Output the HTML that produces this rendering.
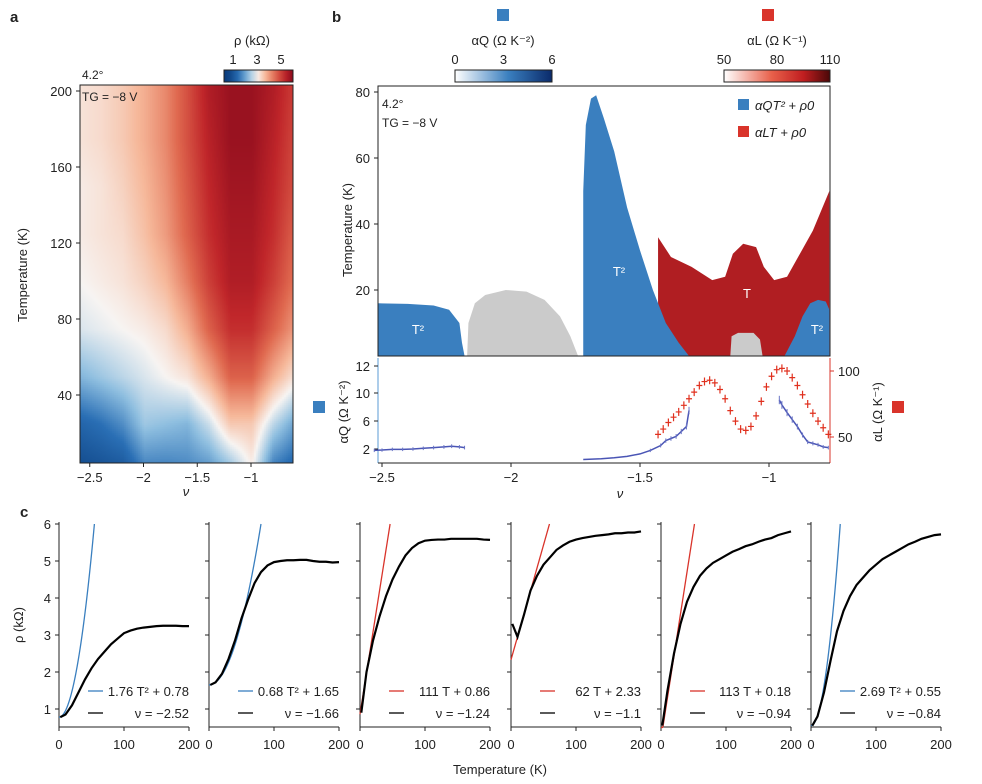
<!DOCTYPE html>
<html><head><meta charset="utf-8"><style>
body{margin:0;background:#fff;width:982px;height:784px;overflow:hidden;position:relative;font-family:"Liberation Sans",sans-serif}
#hm{position:absolute;left:80px;top:85px}
svg{position:absolute;left:0;top:0}
text{font-family:"Liberation Sans",sans-serif;font-size:13px;fill:#222}
</style></head><body>
<canvas id="hm" width="213" height="378"></canvas>
<svg id="s" width="982" height="784"></svg>
<script>
// ---- panel a data ----
const hmNu=[-2.6,-2.4,-2.2,-2.0,-1.8,-1.6,-1.4,-1.2,-1.0,-0.8,-0.6];
const hmT=[0,25,50,75,100,125,150,175,200];
const hmRho=[
[0.8,0.9,1.0,1.6,1.6,1.7,1.8,2.2,3.0,1.5,1.2],
[1.3,1.5,1.8,2.4,2.3,2.2,2.7,3.5,3.5,2.6,2.0],
[2.2,2.4,2.6,2.8,3.0,3.2,3.8,4.6,4.6,3.8,3.2],
[2.8,2.9,3.0,3.1,3.3,3.8,4.6,5.2,5.2,4.6,4.0],
[3.0,3.1,3.2,3.4,3.7,4.3,5.0,5.5,5.5,5.0,4.4],
[3.1,3.2,3.3,3.6,4.0,4.6,5.2,5.6,5.6,5.2,4.6],
[3.1,3.2,3.4,3.7,4.1,4.7,5.3,5.7,5.7,5.3,4.8],
[3.2,3.3,3.5,3.8,4.2,4.8,5.4,5.8,5.8,5.4,4.9],
[3.2,3.3,3.5,3.8,4.2,4.8,5.5,5.8,5.8,5.5,5.0]];
const aXTicks=[-2.5,-2,-1.5,-1];
const aYTicks=[40,80,120,160,200];
// ---- panel b data ----
const regBlueL=[[-2.53,0],[-2.53,16],[-2.4,15.8],[-2.3,15.3],[-2.24,14],[-2.2,10],[-2.19,4],[-2.18,0]];
const regGray=[[-2.17,0],[-2.165,10],[-2.14,16],[-2.1,18.5],[-2.02,20],[-1.94,19.5],[-1.87,17],[-1.81,12],[-1.77,6],[-1.74,0]];
const regRed=[[-1.43,0],[-1.43,36],[-1.38,30],[-1.3,27],[-1.22,23],[-1.17,24],[-1.14,31],[-1.1,34],[-1.05,33],[-1.02,27],[-0.98,23],[-0.93,24],[-0.88,31],[-0.83,38],[-0.766,50],[-0.766,0]];
const regBlueM=[[-1.72,0],[-1.72,50],[-1.71,70],[-1.69,78],[-1.67,79],[-1.64,72],[-1.6,62],[-1.55,45],[-1.5,32],[-1.45,20],[-1.4,10],[-1.35,4],[-1.31,0]];
const regGrayS=[[-1.15,0],[-1.145,6],[-1.12,7],[-1.06,7],[-1.035,5],[-1.025,0]];
const regBlueR=[[-0.94,0],[-0.9,6],[-0.87,12],[-0.84,16],[-0.81,17],[-0.78,16.5],[-0.766,14],[-0.766,0]];
const bTTicks=[20,40,60,80];
const bNuTicks=[-2.5,-2,-1.5,-1];
const aqTicks=[2,6,10,12];
const alTicks=[50,100];
const aqSeg1=[[-2.53,1.8],[-2.5,1.85],[-2.46,1.95],[-2.42,1.95],[-2.38,2.0],[-2.34,2.1],[-2.3,2.2],[-2.26,2.3],[-2.23,2.4],[-2.2,2.3],[-2.18,2.2]];
const aqSeg2=[[-1.72,0.5],[-1.65,0.6],[-1.6,0.75],[-1.55,0.95],[-1.5,1.3],[-1.46,1.8],[-1.42,2.5],[-1.4,3.2],[-1.38,3.5],[-1.36,3.8],[-1.34,4.5],[-1.32,5.2],[-1.31,7.5]];
const aqSeg3=[[-0.96,9.0],[-0.95,8.3],[-0.93,7.2],[-0.91,6.2],[-0.89,5.2],[-0.87,4.0],[-0.85,3.0],[-0.83,2.8],[-0.81,2.6],[-0.79,2.3],[-0.77,2.2]];
const alNu=[-1.43,-1.41,-1.39,-1.37,-1.35,-1.33,-1.31,-1.29,-1.27,-1.25,-1.23,-1.21,-1.19,-1.17,-1.15,-1.13,-1.11,-1.09,-1.07,-1.05,-1.03,-1.01,-0.99,-0.97,-0.95,-0.93,-0.91,-0.89,-0.87,-0.85,-0.83,-0.81,-0.79,-0.77];
const alVal=[52,56,61,65,69,74,79,84,89,92,93,91,86,79,70,62,56,55,58,66,77,88,96,101,102,100,95,89,82,75,68,62,57,52];
// ---- panel c data ----
const cT=[0,10,20,30,40,50,60,70,80,90,100,110,120,130,140,150,160,170,180,190,200];
const cRho=[
[0.78,0.85,1.1,1.45,1.8,2.1,2.35,2.55,2.75,2.9,3.05,3.12,3.17,3.2,3.22,3.24,3.25,3.25,3.25,3.24,3.24],
[1.65,1.72,1.95,2.35,2.85,3.45,3.95,4.4,4.7,4.88,4.97,5.0,5.02,5.02,5.03,5.03,5.0,4.98,4.98,4.96,4.97],
[0.9,2.0,2.85,3.5,4.05,4.5,4.85,5.15,5.35,5.48,5.55,5.57,5.58,5.58,5.6,5.6,5.6,5.6,5.6,5.58,5.57],
[3.3,2.95,3.55,4.2,4.6,4.9,5.1,5.3,5.42,5.52,5.58,5.62,5.65,5.68,5.7,5.72,5.75,5.75,5.77,5.77,5.8],
[0.55,1.5,2.5,3.3,3.9,4.3,4.6,4.8,4.95,5.05,5.15,5.25,5.32,5.4,5.45,5.52,5.58,5.62,5.7,5.75,5.8],
[0.55,0.8,1.45,2.3,3.1,3.65,4.05,4.35,4.55,4.75,4.9,5.05,5.15,5.25,5.35,5.45,5.52,5.6,5.65,5.7,5.72]];
const fitType=['q','q','l','l','l','q'];
const fitA=[1.76,0.68,111,62,113,2.69];
const fitB=[0.78,1.65,0.86,2.33,0.18,0.55];
const fitLbl=['1.76 T\u00b2 + 0.78','0.68 T\u00b2 + 1.65','111 T + 0.86','62 T + 2.33','113 T + 0.18','2.69 T\u00b2 + 0.55'];
const nuLbl=['\u22122.52','\u22121.66','\u22121.24','\u22121.1','\u22120.94','\u22120.84'];
const cYTicks=[1,2,3,4,5,6];
const cXTicks=[0,100,200];

const NS='http://www.w3.org/2000/svg';
const S=document.getElementById('s');
function el(tag,attrs,parent,txt){const e=document.createElementNS(NS,tag);for(const k in attrs)e.setAttribute(k,attrs[k]);if(txt!==undefined)e.textContent=txt;(parent||S).appendChild(e);return e;}
function T(x,y,s,o){o=o||{};const e=el('text',Object.assign({x:x,y:y,'text-anchor':o.a||'middle'},o.attr||{}),o.p,s);if(o.size)e.style.fontSize=o.size+'px';if(o.fill)e.style.fill=o.fill;if(o.w)e.style.fontWeight=o.w;if(o.it)e.style.fontStyle='italic';return e;}

// colormap
const cmV=[0.5,1.5,2.3,3,3.7,4.5,5.3,6];
const cmC=[[8,58,122],[42,111,181],[143,191,224],[247,244,242],[246,184,154],[224,106,80],[192,38,42],[138,10,28]];
function cmap(v){if(v<=cmV[0])return cmC[0];for(let i=1;i<cmV.length;i++){if(v<=cmV[i]){const t=(v-cmV[i-1])/(cmV[i]-cmV[i-1]);return cmC[i-1].map((c,j)=>Math.round(c+(cmC[i][j]-c)*t));}}return cmC[cmC.length-1];}

// ---- panel a ----
const ax=n=>251+(n+1)*107.5, ay=t=>91+(200-t)*1.9;
(function(){const c=document.getElementById('hm').getContext('2d');
function interp(nu,t){let i=0;while(i<hmNu.length-2&&nu>hmNu[i+1])i++;let j=0;while(j<hmT.length-2&&t>hmT[j+1])j++;
const u=Math.min(1,Math.max(0,(nu-hmNu[i])/(hmNu[i+1]-hmNu[i]))),v=Math.min(1,Math.max(0,(t-hmT[j])/(hmT[j+1]-hmT[j])));
return hmRho[j][i]*(1-u)*(1-v)+hmRho[j][i+1]*u*(1-v)+hmRho[j+1][i]*(1-u)*v+hmRho[j+1][i+1]*u*v;}
for(let px=0;px<213;px+=2)for(let py=0;py<378;py+=2){const nu=(80+px-251)/107.5-1,t=200-(85+py-91)/1.9;const col=cmap(interp(nu,t));c.fillStyle=`rgb(${col})`;c.fillRect(px,py,2,2);}})();
el('rect',{x:80,y:85,width:213,height:378,fill:'none',stroke:'#222','stroke-width':1,});
T(10,22,'a',{a:'start',w:'bold',size:15});
aXTicks.forEach(v=>{el('line',{x1:ax(v),x2:ax(v),y1:463,y2:467,stroke:'#222'});T(ax(v),482,String(v).replace('-','\u2212'));});
aYTicks.forEach(v=>{el('line',{x1:76,x2:80,y1:ay(v),y2:ay(v),stroke:'#222'});T(72,ay(v)+5,String(v),{a:'end'});});
T(186,496,'\u03bd',{it:1,attr:{}});
T(27,275,'Temperature (K)',{attr:{transform:'rotate(-90 27 275)',}});
T(82,79,'4.2\u00b0',{a:'start',size:12});T(82,101,'TG = \u22128 V',{a:'start',size:12});
// colorbar a
const dA=el('defs',{});const gA=el('linearGradient',{id:'gA'},dA);
for(let k=0;k<=10;k++){const v=0.25+k*0.575;el('stop',{offset:k*10+'%','stop-color':`rgb(${cmap(v)})`},gA);}
el('rect',{x:224,y:70,width:69,height:12,fill:'url(#gA)',stroke:'#222',});
[1,3,5].forEach(v=>T(224+(v-0.25)*12,64,String(v)));
T(252,45,'\u03c1 (k\u03a9)',{});

// ---- panel b ----
const bx=n=>769+(n+1)*258, by=t=>356-t*3.3;
T(332,22,'b',{a:'start',w:'bold',size:15});
el('clipPath',{id:'cb'},dA);el('rect',{x:378,y:86,width:452,height:270},dA.lastChild);
const gB=el('g',{'clip-path':'url(#cb)'});
function poly(pts,fill,name){const e=el('polygon',{points:pts.map(p=>bx(p[0])+','+by(p[1])).join(' '),fill:fill,},gB);}
poly(regRed,'#b01e22','region-linear-T');
poly(regBlueL,'#3a7fbf','region-T2-left');
poly(regGray,'#cbcbcb','region-gray-dome');
poly(regBlueM,'#3a7fbf','region-T2-middle');
poly(regGrayS,'#cbcbcb','region-gray-small');
poly(regBlueR,'#3a7fbf','region-T2-right');
el('rect',{x:378,y:86,width:452,height:270,fill:'none',stroke:'#222'});
T(418,334,'T\u00b2',{fill:'#fff'});T(619,276,'T\u00b2',{fill:'#fff'});T(817,334,'T\u00b2',{fill:'#fff'});T(747,298,'T',{fill:'#fff'});
bTTicks.forEach(v=>{el('line',{x1:374,x2:378,y1:by(v),y2:by(v),stroke:'#222'});T(370,by(v)+5,String(v),{a:'end'});});
T(352,230,'Temperature (K)',{attr:{transform:'rotate(-90 352 230)'}});
T(382,108,'4.2\u00b0',{a:'start',size:12});T(382,127,'TG = \u22128 V',{a:'start',size:12});
el('rect',{x:738,y:99,width:11,height:11,fill:'#3a7fbf',});
T(755,110,'\u03b1QT\u00b2 + \u03c10',{a:'start',it:1});
el('rect',{x:738,y:126,width:11,height:11,fill:'#d9342b',});
T(755,137,'\u03b1LT + \u03c10',{a:'start',it:1});
// colorbars b
const gQ=el('linearGradient',{id:'gQ'},dA);el('stop',{offset:'0%','stop-color':'#ffffff'},gQ);el('stop',{offset:'55%','stop-color':'#3a7fbf'},gQ);el('stop',{offset:'100%','stop-color':'#0a2a6a'},gQ);
el('rect',{x:455,y:70,width:97,height:12,fill:'url(#gQ)',stroke:'#222',});
[0,3,6].forEach(v=>T(455+v*97/6,64,String(v)));
T(503,45,'\u03b1Q (\u03a9 K\u207b\u00b2)',{});
el('rect',{x:497,y:9,width:12,height:12,fill:'#3a7fbf'});
const gL=el('linearGradient',{id:'gL'},dA);el('stop',{offset:'0%','stop-color':'#ffffff'},gL);el('stop',{offset:'45%','stop-color':'#e8604a'},gL);el('stop',{offset:'75%','stop-color':'#c01e20'},gL);el('stop',{offset:'100%','stop-color':'#4a0808'},gL);
el('rect',{x:724,y:70,width:106,height:12,fill:'url(#gL)',stroke:'#222',});
[50,80,110].forEach(v=>T(724+(v-50)*106/60,64,String(v)));
T(777,45,'\u03b1L (\u03a9 K\u207b\u00b9)',{});
el('rect',{x:762,y:9,width:12,height:12,fill:'#d9342b'});
// lower subplot
const aqPx=[449,421,393,366];
function qy(v){let i=0;while(i<aqTicks.length-2&&v>aqTicks[i+1])i++;return aqPx[i]+(v-aqTicks[i])*(aqPx[i+1]-aqPx[i])/(aqTicks[i+1]-aqTicks[i]);}
const ly=v=>437-(v-50)*1.32;
el('line',{x1:378,x2:378,y1:358,y2:463,stroke:'#5b9bd5'});
el('line',{x1:830,x2:830,y1:358,y2:463,stroke:'#d9342b'});
el('line',{x1:378,x2:830,y1:463,y2:463,stroke:'#222'});
aqTicks.forEach(v=>{el('line',{x1:374,x2:378,y1:qy(v),y2:qy(v),stroke:'#222'});T(370,qy(v)+5,String(v),{a:'end'});});
alTicks.forEach(v=>{el('line',{x1:830,x2:834,y1:ly(v),y2:ly(v),stroke:'#d9342b'});T(838,ly(v)+5,String(v),{a:'start'});});
bNuTicks.forEach(v=>{el('line',{x1:bx(v),x2:bx(v),y1:463,y2:467,stroke:'#222'});T(bx(v),482,String(v).replace('-','\u2212'));});
T(620,498,'\u03bd',{it:1});
T(348,412,'\u03b1Q (\u03a9 K\u207b\u00b2)',{attr:{transform:'rotate(-90 348 412)'}});
T(882,412,'\u03b1L (\u03a9 K\u207b\u00b9)',{attr:{transform:'rotate(-90 882 412)'}});
el('rect',{x:313,y:401,width:12,height:12,fill:'#3a7fbf'});
el('rect',{x:892,y:401,width:12,height:12,fill:'#d9342b'});
[aqSeg1,aqSeg2,aqSeg3].forEach((seg,si)=>{
 const pl=el('polyline',{points:seg.map(p=>bx(p[0])+','+qy(p[1])).join(' '),fill:'none',stroke:'#4a55b5','stroke-width':1.5});
 
 seg.forEach(p=>{if(p[1]>1.5){const e=0.15+p[1]*0.05;const l=el('line',{x1:bx(p[0]),x2:bx(p[0]),y1:qy(p[1]-e),y2:qy(p[1]+e),stroke:'#6a75c5'});}});
});
alNu.forEach((n,i)=>{const x=bx(n),y=ly(alVal[i]);
 const m=el('path',{d:`M${x-3},${y}H${x+3}M${x},${y-4}V${y+4}`,stroke:'#e0301e','stroke-width':1.2});
 });

// ---- panel c ----
const cx0=[59,209,360,511,661,811];
const cy=r=>709-(r-1)*37;
T(20,517,'c',{a:'start',w:'bold',size:15});
cx0.forEach((x0,i)=>{
 const cx=t=>x0+t*0.65;
 const g=el('g',{});
 el('line',{x1:x0,x2:x0,y1:522,y2:727,stroke:'#222'},g);
 el('line',{x1:x0,x2:x0+130,y1:727,y2:727,stroke:'#222'},g);
 cYTicks.forEach(v=>{el('line',{x1:x0-4,x2:x0,y1:cy(v),y2:cy(v),stroke:'#222'},g);if(i==0)T(x0-8,cy(v)+5,String(v),{a:'end',p:g});});
 cXTicks.forEach(v=>{el('line',{x1:cx(v),x2:cx(v),y1:727,y2:731,stroke:'#222'},g);T(cx(v),749,String(v),{p:g});});
 // fit
 const pts=[];for(let t=0;t<=200;t+=1){const r=fitType[i]=='q'?fitA[i]*1e-3*t*t+fitB[i]:fitA[i]*1e-3*t+fitB[i];if(r>6){pts.push([t-(r-6)/((fitType[i]=='q'?fitA[i]*2e-3*t:fitA[i]*1e-3)),6]);break;}pts.push([t,r]);}
 const fit=el('polyline',{points:pts.map(p=>cx(p[0])+','+cy(Math.max(0.5,p[1]))).join(' '),fill:'none',stroke:fitType[i]=='q'?'#3a7fbf':'#d9342b','stroke-width':1.3},g);
 
 const d=el('polyline',{points:cT.map((t,k)=>cx(Math.max(t,2))+','+cy(cRho[i][k])).join(' '),fill:'none',stroke:'#000','stroke-width':2.2},g);
 
 el('line',{x1:x0+29,x2:x0+44,y1:691,y2:691,stroke:fitType[i]=='q'?'#3a7fbf':'#d9342b','stroke-width':1.3},g);
 T(x0+130,696,fitLbl[i],{a:'end',p:g});
 el('line',{x1:x0+29,x2:x0+44,y1:713,y2:713,stroke:'#000','stroke-width':1.3},g);
 T(x0+130,718,'\u03bd = '+nuLbl[i],{a:'end',p:g});
});
T(23,625,'\u03c1 (k\u03a9)',{attr:{transform:'rotate(-90 23 625)'}});
T(500,774,'Temperature (K)',{attr:{}});
</script>
</body></html>
